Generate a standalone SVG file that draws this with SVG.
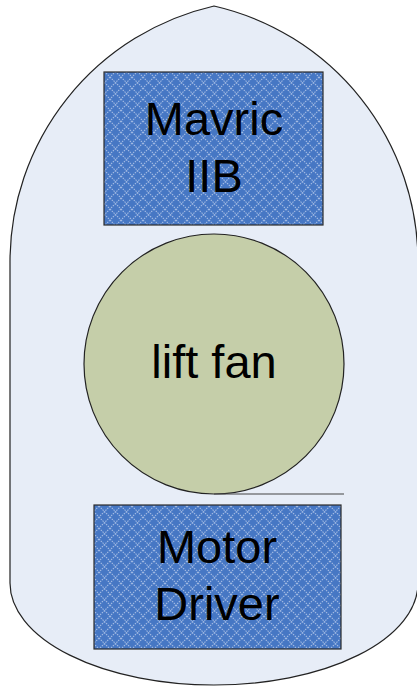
<svg xmlns="http://www.w3.org/2000/svg" width="417" height="686" viewBox="0 0 417 686">
  <style>
    .lbl { font-family: "Liberation Sans", Arial, sans-serif; font-size: 47px; fill: #000; text-anchor: middle; }
    .box { fill: url(#hatch); stroke: #2b2b2b; stroke-width: 1.2; }
  </style>
  <defs>
    <!-- light diagonal lattice over a blue fill -->
    <pattern id="hatch" patternUnits="userSpaceOnUse" width="11" height="11">
      <rect width="11" height="11" fill="#4677C4"/>
      <path d="M0 0 L11 11 M11 0 L0 11" stroke="#A3BBE4" stroke-width="1.1" stroke-dasharray="1.5 1" fill="none"/>
    </pattern>
  </defs>

  <!-- hull outline -->
  <g id="hull">
    <path d="M214 6 A262.6 262.6 0 0 0 10 262 L10 583 A204 102 0 0 0 418 583 L418 262 A262.6 262.6 0 0 0 214 6 Z"
          fill="#E7EDF7" stroke="#222" stroke-width="1.2"/>
  </g>

  <g id="mavric">
    <rect class="box" x="104" y="72" width="219" height="153"/>
    <text class="lbl" x="214" y="135">Mavric</text>
    <text class="lbl" x="214" y="192">IIB</text>
  </g>

  <g id="liftfan">
    <circle cx="214" cy="364" r="130" fill="#C5CEA9" stroke="#222" stroke-width="1.2"/>
    <text class="lbl" x="214" y="378">lift fan</text>
  </g>

  <g id="connectors">
    <line x1="214" y1="494" x2="344" y2="494" stroke="#444" stroke-width="1.2"/>
  </g>

  <g id="motordriver">
    <rect class="box" x="94" y="505" width="247" height="144"/>
    <text class="lbl" x="217" y="563">Motor</text>
    <text class="lbl" x="217" y="620">Driver</text>
  </g>
</svg>
